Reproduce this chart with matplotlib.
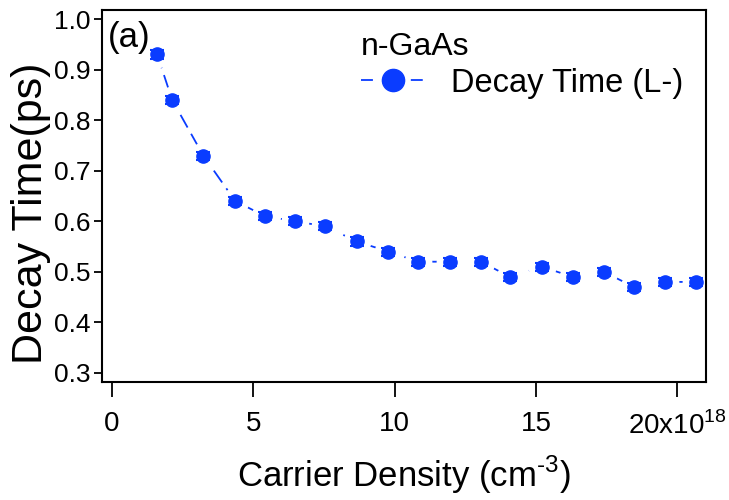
import matplotlib
matplotlib.use("Agg")
import matplotlib.pyplot as plt
from matplotlib.lines import Line2D

# carrier density (x10^18 cm^-3) and decay time (ps)
density = [1.6, 2.13, 3.23, 4.36, 5.42, 6.48, 7.54, 8.67, 9.77, 10.83,
           11.96, 13.05, 14.08, 15.21, 16.3, 17.4, 18.46, 19.56, 20.65]
decay = [0.93, 0.84, 0.73, 0.64, 0.61, 0.60, 0.59, 0.56, 0.54, 0.52,
         0.52, 0.52, 0.49, 0.51, 0.49, 0.50, 0.47, 0.48, 0.48]
decay_err = [0.008] * len(decay)

xticks = [0, 5, 10, 15, 20]
xtick_labels = ['0', '5', '10', '15', '20x10$^{18}$']
yticks = [0.3, 0.4, 0.5, 0.6, 0.7, 0.8, 0.9, 1.0]

blue = '#0A3CFF'
plt.rcParams['font.family'] = ['Liberation Sans', 'DejaVu Sans']
plt.rcParams['mathtext.fontset'] = 'custom'
plt.rcParams['mathtext.rm'] = 'Liberation Sans'

fig = plt.figure(figsize=(7.29, 5.0), dpi=100)
ax = fig.add_axes([0.140, 0.236, 0.828, 0.744])

# dashed line, white halo leaves gaps around the markers (Igor look)
ax.plot(density, decay, linestyle=(0, (8, 4)), color=blue, linewidth=1.3, zorder=1)
ax.plot(density, decay, linestyle='none', marker='o', markersize=19,
        color='white', zorder=2)
ax.errorbar(density, decay, yerr=decay_err, fmt='o', color=blue, markersize=9.5,
            capsize=5, elinewidth=1.5, capthick=1.5, zorder=3)

ax.set_xlim(-0.35, 21.0)
ax.set_ylim(0.282, 1.018)
ax.set_xticks(xticks)
ax.set_xticklabels(xtick_labels)
ax.set_yticks(yticks)
ax.set_yticklabels([f'{v:.1f}' for v in yticks])

ax.tick_params(axis='y', direction='out', length=6, width=1.3, labelsize=19, pad=2)
ax.tick_params(axis='x', direction='out', length=11, width=1.3, labelsize=20, pad=10)
for s in ax.spines.values():
    s.set_linewidth(1.5)

ax.set_ylabel('Decay Time(ps)', fontsize=31)
ax.yaxis.set_label_coords(-0.084, 0.454)
ax.set_xlabel('Carrier Density (cm$^{\u20103}$)', fontsize=25, labelpad=10)

ax.text(0.01, 0.97, '(a)', transform=ax.transAxes, fontsize=25, va='top', ha='left')

handle = Line2D([], [], linestyle=(0, (6.6, 21)), color=blue, marker='o',
                markersize=16, linewidth=1.3)
leg = ax.legend([handle], ['Decay Time (L-)'], title='n-GaAs', loc='upper left',
                bbox_to_anchor=(0.429, 0.94), frameon=False, fontsize=23.5,
                title_fontsize=23, handlelength=1.95, handletextpad=0.8,
                borderaxespad=0, borderpad=0, labelspacing=0.2)
leg._legend_box.align = 'left'
leg._legend_box.sep = 4

fig.savefig('out.png', dpi=100)
